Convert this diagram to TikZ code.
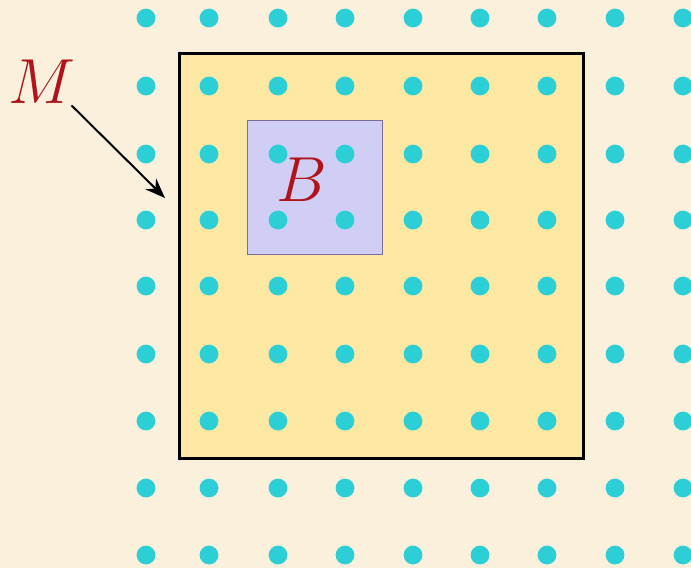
\documentclass[tikz,border=0pt]{standalone}
\usepackage{graphicx}
\usepackage{xcolor}
\usetikzlibrary{positioning, arrows.meta}

\definecolor{papel}{HTML}{FAF0DC}
\definecolor{amarelo}{HTML}{FCE8A2}
\definecolor{lilas}{HTML}{D0CEF4}
\definecolor{borda_lilas}{HTML}{7B6C9E}
\definecolor{ciano}{HTML}{2DCFD7}
\definecolor{vermelho}{HTML}{B0141A}

\newcommand{\bigletter}[1]{\scalebox{1.82}{\Huge$#1$}}

\begin{document}
\begin{tikzpicture}[
        x=0.025cm, y=-0.025cm,
        region/.style={rectangle, inner sep=0pt, anchor=north west},
        big_region/.style={region, fill=amarelo, draw=black, line width=2pt, minimum width=10.1cm, minimum height=10.125cm},
        small_region/.style={region, fill=lilas, draw=borda_lilas, line width=0.6pt, minimum width=3.375cm, minimum height=3.35cm},
        dot/.style={circle, fill=ciano, inner sep=0pt, minimum size=0.47cm},
        letter/.style={inner sep=0pt, text=vermelho},
        arrow/.style={-{Stealth[length=0.5cm, width=0.38cm]}, line width=1.4pt}
    ]

        % Fundo
        \fill[papel] (0,0) rectangle (691,568);
        \useasboundingbox (0,0) rectangle (691,568);

        % Regioes
        \node[big_region] (mbox) at (178,52) {};
        \node[small_region] (bbox) at (247,120) {};

        % Pontos
        \foreach \x [count=\i] in {146,209,278,345,413,480,547,615,683}
            \foreach \y [count=\j] in {18,86,154,220,286,354,421,488,555}
                \node[dot] (p\i\j) at (\x,\y) {};

        % Rotulos
        \node[letter] (blabel) at (302,180) {\bigletter{B}};
        \node[letter] (mlabel) at (42,82) {\bigletter{M}};

        % Seta
        \coordinate (mtip) at (165,198);
        \draw[arrow] ([xshift=-3pt, yshift=-1pt]mlabel.south east) -- (mtip);

    \end{tikzpicture}
\end{document}
